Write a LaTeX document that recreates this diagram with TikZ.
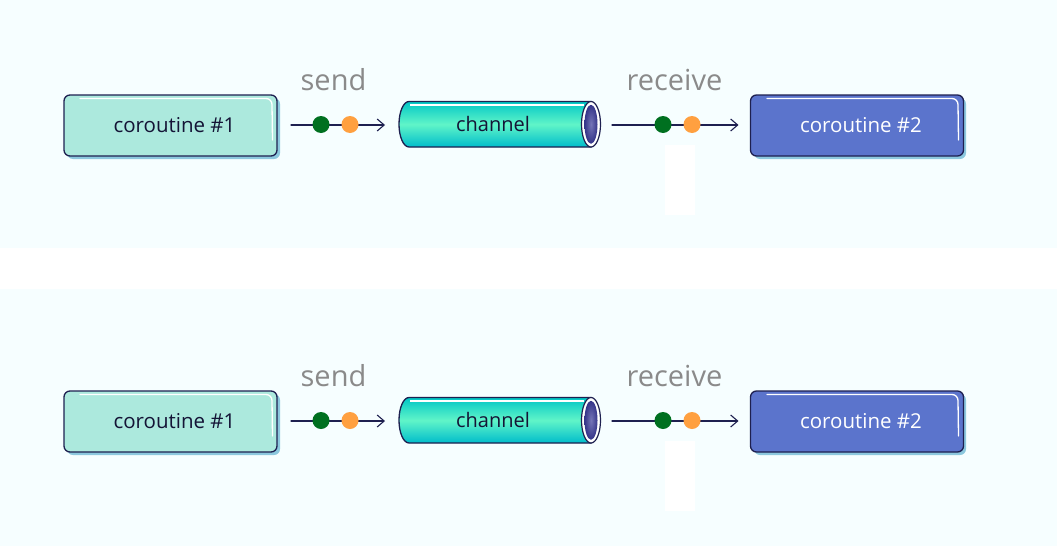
\documentclass[tikz,border=0pt]{standalone}
\usepackage{fontspec}
\setmainfont{Open Sans}
\usetikzlibrary{arrows.meta}
\begin{document}
\begin{tikzpicture}[x=1pt,y=-1pt,
  every node/.style={inner sep=0pt,outer sep=0pt},
  boxa/.style={minimum width=213pt,minimum height=61pt,rounded corners=6pt,draw=navyc,line width=1.3pt,fill=tealbox,text=darktext,font=\fontsize{20.5}{24}\selectfont},
  boxb/.style={boxa,fill=bluebox,text=white},
  lbl/.style={text=graytext,font=\fontsize{29}{34}\selectfont},
  conn/.style={draw=navyc,line width=1.1pt,-{Straight Barb[length=7pt,width=12pt,line width=1.1pt]},line cap=round},
  gdot/.style={circle,fill=dotgreen,minimum size=17pt},
  odot/.style={circle,fill=dotorange,minimum size=17pt},
]
\definecolor{bg}{HTML}{F6FEFF}
\definecolor{navyc}{HTML}{1E2050}
\definecolor{tealbox}{HTML}{ACE9DD}
\definecolor{bluebox}{HTML}{5B74CC}
\definecolor{shadowc}{HTML}{8CC8DE}
\definecolor{darktext}{HTML}{141436}
\definecolor{graytext}{HTML}{8A8A8A}
\definecolor{dotgreen}{HTML}{007020}
\definecolor{dotorange}{HTML}{FFA040}
\definecolor{cyltop}{HTML}{00C6C6}
\definecolor{cylmid}{HTML}{60F5C8}
\definecolor{cylbot}{HTML}{00BCCB}
\definecolor{facec}{HTML}{3A3A98}
\useasboundingbox[fill=white] (0,0) rectangle (1057,546);
\fill[bg] (0,0) rectangle (1057,248);
\fill[bg] (0,289) rectangle (1057,546);
\foreach \dy/\s in {0/a,296/b}{
  \begin{scope}[yshift=-\dy pt]
  % faint white artifact
  \fill[white] (665,145) rectangle (695,215);
  % shadows
  \fill[shadowc,rounded corners=6pt] (67,98) rectangle (280,159);
  \fill[shadowc,rounded corners=6pt] (754,98) rectangle (966,159);
  % boxes
  \node[boxa] (c1\s) at (170.5,125.5) {\hspace*{8pt}coroutine \#1};
  \draw[white,line width=1.3pt,line cap=round] (80,98.5) -- (266,98.5) arc[start angle=90,end angle=0,radius=6pt] -- (272.5,140);
  \node[boxb] (c2\s) at (857,125.5) {\hspace*{8pt}coroutine \#2};
  \draw[white,line width=1.3pt,line cap=round] (767,98.5) -- (952,98.5) arc[start angle=90,end angle=0,radius=6pt] -- (958.5,140);
  % channel cylinder
  \shade[top color=cyltop,bottom color=cylbot,middle color=cylmid,draw=navyc,line width=1.3pt]
    (409,101.5) -- (591,101.5) -- (591,147) -- (409,147) arc[start angle=270,end angle=90,x radius=10pt,y radius=22.75pt] -- cycle;
  \draw[white,line width=1.2pt] (410,105) -- (584,105);
  \filldraw[fill=white,draw=navyc,line width=1.2pt] (591,124.25) ellipse[x radius=9.5pt,y radius=22.75pt];
  \shade[inner color=facec!70,outer color=facec!90!black] (591,124.25) ellipse[x radius=6.5pt,y radius=19.5pt];
  \node[text=darktext,font=\fontsize{20}{24}\selectfont,minimum width=202pt,minimum height=46pt] (ch\s) at (499,124) {\hspace*{-12pt}channel};
  % labels
  \node[lbl] (ls\s) at (333.5,80) {send};
  \node[lbl] (lr\s) at (674.5,80) {receive};
  % connectors
  \draw[conn,shorten <=14pt,shorten >=13pt] (c1\s.east |- 0,125) -- (ch\s.west |- 0,125);
  \draw[conn,shorten <=12pt,shorten >=12pt] (ch\s.east |- 0,125) -- (c2\s.west |- 0,125);
  \node[gdot] (g1\s) at (321,124.5) {};
  \node[odot] (o1\s) at (350,124.5) {};
  \node[gdot] (g2\s) at (663,124.5) {};
  \node[odot] (o2\s) at (692,124.5) {};
  \end{scope}
}
\end{tikzpicture}
\end{document}
